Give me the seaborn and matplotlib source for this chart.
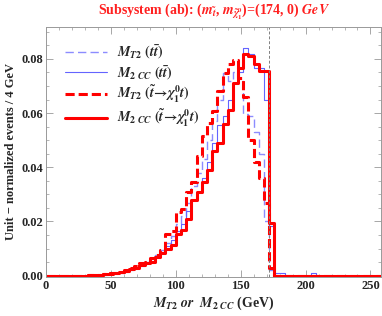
import numpy as np
import pandas as pd
import matplotlib
matplotlib.use("Agg")
import matplotlib.pyplot as plt
import seaborn as sns
from matplotlib.lines import Line2D
from matplotlib.ticker import MultipleLocator

# 4 GeV bins from 0 to 260, values listed from 32 GeV upward (zero below)
bin_edges = list(range(0, 264, 4))
start_bin = 32

mt2_tt = [0.0001, 0.0002, 0.0003, 0.0005, 0.0007, 0.0009,
          0.0012, 0.0018, 0.0025, 0.003, 0.004, 0.005, 0.006, 0.0075, 0.0095,
          0.012, 0.0145, 0.019, 0.022, 0.027, 0.033, 0.038, 0.043, 0.05, 0.057,
          0.065, 0.0747, 0.072, 0.075, 0.072, 0.0597, 0.0588, 0.053, 0.045,
          0.02, 0.002]
m2cc_tt = [0.0001, 0.0002, 0.0003, 0.0004, 0.0006, 0.0008,
           0.001, 0.0015, 0.002, 0.0027, 0.0035, 0.0045, 0.0055, 0.007, 0.0085,
           0.011, 0.013, 0.0165, 0.019, 0.024, 0.028, 0.031, 0.036, 0.042, 0.049,
           0.0557, 0.059, 0.065, 0.071, 0.075, 0.0839, 0.082, 0.0766, 0.0766,
           0.065, 0.0185, 0.001, 0.001, 0.0, 0.0, 0.0, 0.0, 0.0, 0.0008]
mt2_sig = [0.0001, 0.0002, 0.0004, 0.0006, 0.0008, 0.001,
           0.0015, 0.002, 0.003, 0.0035, 0.0045, 0.005, 0.0065, 0.0075, 0.0093,
           0.0154, 0.0166, 0.0234, 0.0246, 0.0307, 0.0344, 0.044, 0.0515, 0.0564,
           0.0607, 0.068, 0.0747, 0.078, 0.0796, 0.073, 0.066, 0.05, 0.042,
           0.036, 0.027, 0.003]
m2cc_sig = [0.0001, 0.0002, 0.0003, 0.0005, 0.0007, 0.0009,
            0.0013, 0.0018, 0.0024, 0.003, 0.0038, 0.0045, 0.0052, 0.0068,
            0.0085, 0.0098, 0.0115, 0.0155, 0.017, 0.021, 0.028, 0.031, 0.0345,
            0.039, 0.046, 0.049, 0.056, 0.061, 0.071, 0.0766, 0.082, 0.0812,
            0.078, 0.0757, 0.0757, 0.0195]

x_ticks = [0, 50, 100, 150, 200, 250]
y_ticks = [0.00, 0.02, 0.04, 0.06, 0.08]
endpoint = 172

labels = [r"$M_{T2}\ (t\bar{t})$",
          r"$M_{2\ CC}\ (t\bar{t})$",
          r"$M_{T2}\ (\tilde{t}\!\rightarrow\!\chi_1^0 t)$",
          r"$M_{2\ CC}\ (\tilde{t}\!\rightarrow\!\chi_1^0 t)$"]
colors = ["#8c8cff", "#6464ff", "#ff0000", "#ff0000"]
styles = [(0, (6, 3)), "-", (0, (3, 1.3)), "-"]
widths = [1.0, 0.8, 2.2, 2.2]


def full_series(vals):
    out = np.zeros(len(bin_edges) - 1)
    k = start_bin // 4
    out[k:k + len(vals)] = vals
    return out


sns.set_style("ticks")
plt.rcParams["font.family"] = ["Liberation Serif", "DejaVu Serif"]
plt.rcParams["font.weight"] = "bold"
plt.rcParams["mathtext.fontset"] = "stix"

fig = plt.figure(figsize=(3.82, 3.16), dpi=100)
ax = fig.add_axes([0.1204, 0.1234, 0.8766, 0.7912])

centers = np.array(bin_edges[:-1]) + 2
for vals, c, ls, lw in zip([mt2_tt, m2cc_tt, mt2_sig, m2cc_sig], colors, styles, widths):
    df = pd.DataFrame({"x": centers, "w": full_series(vals)})
    sns.histplot(data=df, x="x", weights="w", bins=bin_edges, element="step",
                 fill=False, color=c, linestyle=ls, linewidth=lw, ax=ax)

ax.axvline(endpoint, color="#808080", linestyle=(0, (3, 2)), linewidth=0.7)

ax.set_xlim(0, 258)
ax.set_ylim(-0.0005, 0.0918)
ax.set_xticks(x_ticks)
ax.set_yticks(y_ticks)
ax.xaxis.set_minor_locator(MultipleLocator(10))
ax.yaxis.set_minor_locator(MultipleLocator(0.005))
ax.set_xticklabels([str(v) for v in x_ticks], fontweight="bold")
ax.set_yticklabels([f"{v:.2f}" for v in y_ticks], fontweight="bold")
ax.tick_params(which="both", direction="in", top=True, right=True,
               color="#999999", labelsize=9)
ax.tick_params(which="major", length=5, width=0.6, pad=2)
ax.tick_params(which="minor", length=2.5, width=0.5)
for sp in ax.spines.values():
    sp.set_color("#999999")
    sp.set_linewidth(0.7)

ax.set_xlabel(r"$M_{T2}$ $or$  $M_{2\ CC}$ (GeV)", fontsize=10, labelpad=2,
              fontweight="bold")
ax.set_ylabel("Unit \u2212 normalized events / 4 GeV", fontsize=9, labelpad=3,
              fontweight="bold")
fig.suptitle(r"Subsystem (ab): ($m_{\tilde{t}}$, $m_{\tilde{\chi}_1^0}$)=(174, 0) $GeV$",
             color="#ff2020", fontsize=10, fontweight="bold", x=0.56, y=0.995)

handles = [Line2D([0], [0], color=c, linestyle=ls, linewidth=lw)
           for c, ls, lw in zip(colors, styles, widths)]
ax.legend(handles, labels, loc="upper left", bbox_to_anchor=(0.02, 0.985),
          frameon=False, fontsize=10, handlelength=3.0, handletextpad=0.7,
          labelspacing=0.2)

fig.savefig("out.png", dpi=100)
